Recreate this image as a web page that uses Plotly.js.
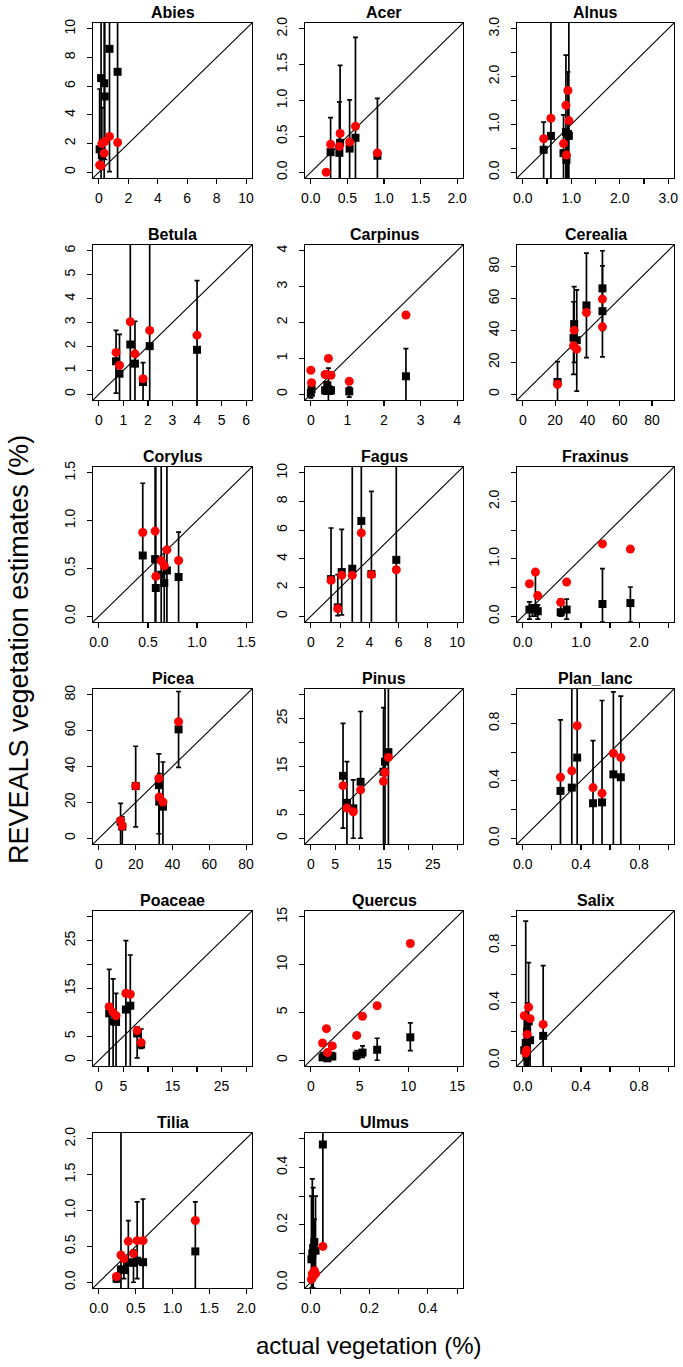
<!DOCTYPE html>
<html><head><meta charset="utf-8">
<script src="https://cdn.plot.ly/plotly-3.0.1.min.js"></script>
<style>html,body{margin:0;padding:0;background:#fff}</style>
</head><body><div id="chart" style="width:683px;height:1367px"></div>
<script>
// ---------------- DATA ----------------
const abies_actual = [0.05, 0.15, 0.2, 0.36, 0.4, 0.72, 1.27];
const abies_black  = [1.6, 6.56, 1.2, 6.2, 5.28, 8.6, 7.0];
const abies_lo     = [0.3, -1, 0.2, -1, 0.9, 0.05, -1];
const abies_hi     = [5.8, 30, 4.5, 30, 30, 30, 30];
const abies_red    = [0.5, 0.45, 2.0, 1.33, 2.14, 2.5, 2.07];
const abies_ticks  = [0, 2, 4, 6, 8, 10];
const abies_labels = ['0', '2', '4', '6', '8', '10'];

const acer_actual = [0.21, 0.27, 0.39, 0.40, 0.53, 0.61, 0.91];
const acer_black  = [null, 0.28, 0.27, 0.41, 0.33, 0.48, 0.23];
const acer_lo     = [null, -0.1, -0.1, -0.1, -0.1, -0.1, -0.1];
const acer_hi     = [null, 0.76, 0.98, 1.49, 1.01, 1.88, 1.03];
const acer_red    = [0.0, 0.39, 0.36, 0.54, 0.42, 0.64, 0.27];
const acer_ticks  = [0, 0.5, 1, 1.5, 2];
const acer_labels = ['0.0', '0.5', '1.0', '1.5', '2.0'];

const alnus_actual = [0.43, 0.58, 0.84, 0.89, 0.90, 0.93, 0.95];
const alnus_black  = [0.47, 0.76, 0.40, 0.84, 0.26, 0.80, 0.76];
const alnus_lo     = [-0.2, -0.2, -0.2, -0.2, -0.2, -0.2, -0.2];
const alnus_hi     = [1.05, 5, 1.2, 2.45, 0.9, 2.1, 5];
const alnus_red    = [0.70, 1.13, 0.60, 1.40, 0.36, 1.71, 1.08];
const alnus_ticks  = [0, 0.5, 1, 1.5, 2, 2.5, 3];
const alnus_labels = ['0.0', '', '1.0', '', '2.0', '', '3.0'];

const betula_actual = [0.70, 0.84, 1.28, 1.47, 1.80, 2.07, 4.0];
const betula_black  = [1.38, 0.86, 2.08, 1.28, 0.51, 2.01, 1.86];
const betula_lo     = [0.05, -0.3, -0.3, -0.3, -0.3, -0.3, -0.3];
const betula_hi     = [2.67, 2.5, 10, 3.05, 1.32, 10, 4.75];
const betula_red    = [1.75, 1.21, 3.03, 1.69, 0.65, 2.67, 2.47];
const betula_ticks  = [0, 1, 2, 3, 4, 5, 6];
const betula_labels = ['0', '1', '2', '3', '4', '5', '6'];

const carpinus_actual = [0.0, 0.02, 0.39, 0.45, 0.48, 0.55, 1.05, 2.6];
const carpinus_black  = [0.04, 0.14, 0.11, 0.25, 0.14, 0.11, 0.08, 0.5];
const carpinus_lo     = [-0.1, 0.0, 0.0, 0.0, -0.2, 0.0, -0.08, -0.2];
const carpinus_hi     = [0.2, 0.22, 0.2, 0.35, 0.73, 0.2, 0.2, 1.27];
const carpinus_red    = [0.67, 0.32, 0.55, 0.55, 1.0, 0.53, 0.36, 2.21];
const carpinus_ticks  = [0, 1, 2, 3, 4];
const carpinus_labels = ['0', '1', '2', '3', '4'];

const cerealia_actual = [21.5, 31.4, 31.8, 33.4, 39.4, 49.3, 49.3];
const cerealia_black  = [7.7, 35.4, 44, 33.9, 55.7, 66.4, 52.1];
const cerealia_lo     = [-5, 12.5, 20, 2, 23, 40, 23.5];
const cerealia_hi     = [20.5, 58, 67.5, 65.5, 88.5, 90, 80.5];
const cerealia_red    = [6.3, 30.4, 40.2, 28.3, 51.3, 59.7, 42.3];
const cerealia_ticks  = [0, 20, 40, 60, 80];
const cerealia_labels = ['0', '20', '40', '60', '80'];

const corylus_actual = [0.447, 0.573, 0.58, 0.635, 0.666, 0.693, 0.812];
const corylus_black  = [0.635, 0.597, 0.295, 0.434, 0.347, 0.479, 0.41];
const corylus_lo     = [-0.1, -0.1, -0.1, -0.1, -0.1, -0.1, -0.1];
const corylus_hi     = [1.39, 3, 3, 3, 0.7, 3, 0.88];
const corylus_red    = [0.875, 0.89, 0.417, 0.58, 0.528, 0.694, 0.583];
const corylus_ticks  = [0, 0.5, 1, 1.5];
const corylus_labels = ['0.0', '0.5', '1.0', '1.5'];

const fagus_actual = [1.38, 1.84, 2.11, 2.83, 3.45, 4.14, 5.84];
const fagus_black  = [2.59, 0.62, 3.08, 3.31, 6.64, 2.94, 3.93];
const fagus_lo     = [-1, 0.05, 0.1, -1, -1, -1, -1];
const fagus_hi     = [6.15, 2.9, 6.05, 20, 20, 8.7, 20];
const fagus_red    = [2.5, 0.53, 2.85, 2.85, 5.81, 2.9, 3.24];
const fagus_ticks  = [0, 2, 4, 6, 8, 10];
const fagus_labels = ['0', '2', '4', '6', '8', '10'];

const fraxinus_actual = [0.114, 0.166, 0.217, 0.257, 0.651, 0.754, 1.37, 1.85];
const fraxinus_black  = [0.116, 0.145, 0.127, 0.087, 0.07, 0.116, 0.214, 0.23];
const fraxinus_lo     = [-0.05, 0.0, 0.0, -0.05, 0.0, -0.05, -0.1, -0.1];
const fraxinus_hi     = [0.25, 0.2, 0.77, 0.2, 0.3, 0.3, 0.83, 0.51];
const fraxinus_red    = [0.566, null, 0.77, 0.36, 0.243, 0.595, 1.26, 1.17];
const fraxinus_ticks  = [0, 0.5, 1, 1.5, 2, 2.5];
const fraxinus_labels = ['0.0', '', '1.0', '', '2.0', ''];

const picea_actual = [11.8, 12.7, 20.0, 32.6, 32.8, 34.8, 43.3];
const picea_black  = [9.3, 6.5, 29.1, 29.6, 20.4, 17.6, 60.7];
const picea_lo     = [-5, -5, 6.3, 2.5, -5, -5, 39.5];
const picea_hi     = [19.5, 12, 51.3, 47, 36, 42.5, 81.8];
const picea_red    = [9.8, 6.8, 29.2, 33.3, 23, 20.2, 65];
const picea_ticks  = [0, 20, 40, 60, 80];
const picea_labels = ['0', '20', '40', '60', '80'];

const pinus_actual = [6.6, 7.4, 8.7, 10.2, 14.9, 15.2, 15.9];
const pinus_black  = [13.05, 7.4, 6.25, 11.8, 13.9, 16, 18];
const pinus_lo     = [2.1, -2, 0, 0, -2, -2, -2];
const pinus_hi     = [24, 16, 12.2, 26.5, 27.3, 50, 50];
const pinus_red    = [11.0, 6.3, 5.55, 10.1, 11.9, 13.75, 16.9];
const pinus_ticks  = [0, 5, 10, 15, 20, 25, 30];
const pinus_labels = ['0', '5', '', '15', '', '25', ''];

const planlanc_actual = [0.259, 0.337, 0.374, 0.483, 0.545, 0.623, 0.674];
const planlanc_black  = [0.33, 0.353, 0.562, 0.244, 0.25, 0.445, 0.425];
const planlanc_lo     = [-0.1, -0.1, -0.1, -0.1, -0.1, -0.1, -0.1];
const planlanc_hi     = [0.825, 2, 2, 0.68, 0.96, 1.02, 0.99];
const planlanc_red    = [0.425, 0.47, 0.784, 0.353, 0.313, 0.592, 0.562];
const planlanc_ticks  = [0, 0.2, 0.4, 0.6, 0.8, 1.0];
const planlanc_labels = ['0.0', '', '0.4', '', '0.8', ''];

const poaceae_actual = [2.1, 2.9, 3.5, 5.5, 6.4, 7.8, 8.6];
const poaceae_black  = [9.8, 8.1, 8.0, 10.6, 11.4, 5.6, 3.3];
const poaceae_lo     = [-2, -2, -2, -2, -2, 0.5, 2.5];
const poaceae_hi     = [19, 17, 14, 25, 22, 7.0, 6.5];
const poaceae_red    = [11.2, 10.0, 9.3, 14.0, 13.8, 6.2, 3.7];
const poaceae_ticks  = [0, 5, 10, 15, 20, 25, 30];
const poaceae_labels = ['0', '5', '', '15', '', '25', ''];

const quercus_actual = [1.2, 1.6, 1.7, 2.2, 4.7, 5.3, 6.8, 10.2];
const quercus_black  = [0.3, 0.5, 0.2, 0.4, 0.5, 0.8, 1.1, 2.4];
const quercus_lo     = [0.0, 0.1, 0.0, 0.1, 0.1, 0.3, 0.0, 1.0];
const quercus_hi     = [0.8, 0.9, 0.5, 0.8, 1.0, 1.5, 2.3, 3.9];
const quercus_red    = [1.8, 3.3, 0.8, 1.5, 2.6, 4.6, 5.7, 12.2];
const quercus_ticks  = [0, 5, 10, 15];
const quercus_labels = ['0', '5', '10', '15'];

const salix_actual = [0.01, 0.02, 0.025, 0.03, 0.04, 0.05, 0.14];
const salix_black  = [0.07, 0.12, 0.03, 0.2, 0.27, 0.14, 0.17];
const salix_lo     = [-0.05, -0.05, -0.05, -0.05, -0.05, -0.05, -0.05];
const salix_hi     = [0.3, 0.97, 0.1, 0.4, 0.68, 0.3, 0.66];
const salix_red    = [0.31, 0.05, 0.07, 0.18, 0.37, 0.29, 0.25];
const salix_ticks  = [0, 0.2, 0.4, 0.6, 0.8, 1.0];
const salix_labels = ['0.0', '', '0.4', '', '0.8', ''];

const tilia_actual = [0.24, 0.30, 0.34, 0.40, 0.47, 0.52, 0.60, 1.31];
const tilia_black  = [0.05, 0.18, 0.17, 0.28, 0.27, 0.30, 0.28, 0.43];
const tilia_lo     = [0.0, -0.1, 0.05, -0.1, 0.0, 0.05, -0.1, -0.1];
const tilia_hi     = [0.12, 3.0, 0.35, 0.86, 0.45, 1.12, 1.16, 1.12];
const tilia_red    = [0.08, 0.38, 0.33, 0.57, 0.40, 0.58, 0.58, 0.86];
const tilia_ticks  = [0, 0.5, 1, 1.5, 2];
const tilia_labels = ['0.0', '0.5', '1.0', '1.5', '2.0'];

const ulmus_actual = [0.002, 0.005, 0.008, 0.012, 0.016, 0.041];
const ulmus_black  = [0.08, 0.10, 0.12, 0.14, 0.11, 0.48];
const ulmus_lo     = [-0.02, -0.02, -0.02, 0.02, 0.02, 0.12];
const ulmus_hi     = [0.3, 0.36, 0.33, 0.22, 0.3, 0.6];
const ulmus_red    = [0.01, 0.03, 0.02, 0.04, 0.03, 0.125];
const ulmus_ticks  = [0, 0.1, 0.2, 0.3, 0.4, 0.5];
const ulmus_labels = ['0.0', '', '0.2', '', '0.4', ''];

const taxa   = ['Abies','Acer','Alnus','Betula','Carpinus','Cerealia','Corylus','Fagus','Fraxinus','Picea','Pinus','Plan_lanc','Poaceae','Quercus','Salix','Tilia','Ulmus'];
const axisMax = [10, 2, 3, 6, 4, 90, 1.5, 10, 2.5, 80, 30, 1.0, 30, 15, 1.0, 2.0, 0.5];

const xTitle = 'actual vegetation (%)';
const yTitle = 'REVEALS vegetation estimates (%)';

// ---------------- BUILD ----------------
const panels = [
 [abies_actual, abies_black, abies_lo, abies_hi, abies_red, abies_ticks, abies_labels],
 [acer_actual, acer_black, acer_lo, acer_hi, acer_red, acer_ticks, acer_labels],
 [alnus_actual, alnus_black, alnus_lo, alnus_hi, alnus_red, alnus_ticks, alnus_labels],
 [betula_actual, betula_black, betula_lo, betula_hi, betula_red, betula_ticks, betula_labels],
 [carpinus_actual, carpinus_black, carpinus_lo, carpinus_hi, carpinus_red, carpinus_ticks, carpinus_labels],
 [cerealia_actual, cerealia_black, cerealia_lo, cerealia_hi, cerealia_red, cerealia_ticks, cerealia_labels],
 [corylus_actual, corylus_black, corylus_lo, corylus_hi, corylus_red, corylus_ticks, corylus_labels],
 [fagus_actual, fagus_black, fagus_lo, fagus_hi, fagus_red, fagus_ticks, fagus_labels],
 [fraxinus_actual, fraxinus_black, fraxinus_lo, fraxinus_hi, fraxinus_red, fraxinus_ticks, fraxinus_labels],
 [picea_actual, picea_black, picea_lo, picea_hi, picea_red, picea_ticks, picea_labels],
 [pinus_actual, pinus_black, pinus_lo, pinus_hi, pinus_red, pinus_ticks, pinus_labels],
 [planlanc_actual, planlanc_black, planlanc_lo, planlanc_hi, planlanc_red, planlanc_ticks, planlanc_labels],
 [poaceae_actual, poaceae_black, poaceae_lo, poaceae_hi, poaceae_red, poaceae_ticks, poaceae_labels],
 [quercus_actual, quercus_black, quercus_lo, quercus_hi, quercus_red, quercus_ticks, quercus_labels],
 [salix_actual, salix_black, salix_lo, salix_hi, salix_red, salix_ticks, salix_labels],
 [tilia_actual, tilia_black, tilia_lo, tilia_hi, tilia_red, tilia_ticks, tilia_labels],
 [ulmus_actual, ulmus_black, ulmus_lo, ulmus_hi, ulmus_red, ulmus_ticks, ulmus_labels]
];

const W = 683, H = 1367;
const colL = [93, 305, 517], colR = [252, 463, 674];
const rowT = [23, 245, 467, 689, 911, 1133], boxH = 155;
const FONT = '"Liberation Sans", Arial, sans-serif';

const traces = [];
const layout = {
  width: W, height: H, margin: {l: 0, r: 0, t: 0, b: 0},
  showlegend: false, paper_bgcolor: '#ffffff', plot_bgcolor: '#ffffff',
  font: {family: FONT, color: '#000'},
  annotations: []
};

panels.forEach((p, i) => {
  const [xs, bs, los, his, rs, tv, tt] = p;
  const c = i % 3, r = Math.floor(i / 3);
  const k = i === 0 ? '' : String(i + 1);
  const mx = axisMax[i];
  const pad = 0.04 * mx;
  const rng = [-pad, mx + pad];
  const base = {
    range: rng, tickvals: tv, ticktext: tt, tickmode: 'array',
    ticks: 'outside', ticklen: 5, tickwidth: 1.2, tickcolor: '#000',
    showline: true, mirror: true, linecolor: '#000', linewidth: 1.2,
    showgrid: false, zeroline: false, fixedrange: true,
    tickfont: {family: FONT, size: 14, color: '#000'}
  };
  layout['xaxis' + k] = Object.assign({}, base, {
    domain: [colL[c] / W, colR[c] / W], anchor: 'y' + k, ticklabelstandoff: 2
  });
  layout['yaxis' + k] = Object.assign({}, base, {
    domain: [1 - (rowT[r] + boxH) / H, 1 - rowT[r] / H], anchor: 'x' + k,
    tickangle: -90, ticklabelstandoff: 6
  });

  // 1:1 line across the whole panel
  traces.push({x: rng, y: rng, mode: 'lines', line: {color: '#000', width: 1.1},
    xaxis: 'x' + k, yaxis: 'y' + k, hoverinfo: 'skip'});

  const plus = bs.map((b, j) => b == null ? null : his[j] - b);
  const minus = bs.map((b, j) => b == null ? null : b - los[j]);
  traces.push({x: xs, y: bs, mode: 'markers', type: 'scatter',
    marker: {symbol: 'square', size: 8, color: '#000'},
    error_y: {type: 'data', symmetric: false, array: plus, arrayminus: minus,
      color: '#000', thickness: 1.7, width: 2.5},
    xaxis: 'x' + k, yaxis: 'y' + k});
  traces.push({x: xs, y: rs, mode: 'markers', type: 'scatter',
    marker: {symbol: 'circle', size: 9, color: '#ff0000'},
    xaxis: 'x' + k, yaxis: 'y' + k});

  layout.annotations.push({text: '<b>' + taxa[i] + '</b>', xref: 'paper', yref: 'paper',
    x: (colL[c] + colR[c]) / 2 / W, y: 1 - (rowT[r] - 11) / H,
    xanchor: 'center', yanchor: 'middle', showarrow: false,
    font: {family: FONT, size: 16, color: '#000'}});
});

layout.annotations.push({text: yTitle, xref: 'paper', yref: 'paper',
  x: 19 / W, y: 1 - 650 / H, xanchor: 'center', yanchor: 'middle', textangle: -90,
  showarrow: false, font: {family: FONT, size: 27, color: '#000'}});
layout.annotations.push({text: xTitle, xref: 'paper', yref: 'paper',
  x: 368 / W, y: 1 - 1345 / H, xanchor: 'center', yanchor: 'middle',
  showarrow: false, font: {family: FONT, size: 24, color: '#000'}});

Plotly.newPlot('chart', traces, layout, {staticPlot: true, displayModeBar: false});
</script></body></html>
